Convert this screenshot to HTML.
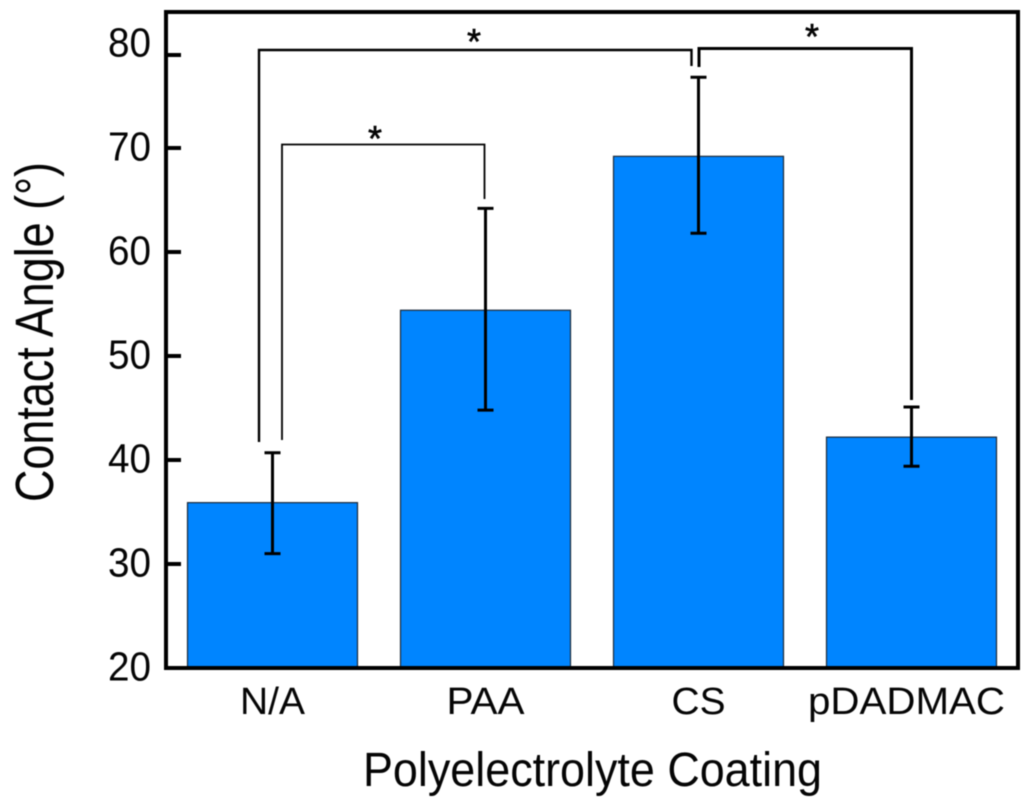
<!DOCTYPE html>
<html>
<head>
<meta charset="utf-8">
<style>
html,body{margin:0;padding:0;background:#fff;}
svg{display:block;filter:blur(0.45px);}
text{font-family:"Liberation Sans",sans-serif;fill:#050505;}
</style>
</head>
<body>
<svg id="chart" width="1024" height="807" viewBox="0 0 1024 807" xmlns="http://www.w3.org/2000/svg"></svg>
<script>
const categories = ['N/A', 'PAA', 'CS', 'pDADMAC'];
const barValues = [35.9, 54.4, 69.2, 42.2];
const errorHigh = [40.7, 64.2, 76.8, 45.1];
const errorLow = [31.0, 44.8, 61.8, 39.4];
const yTicks = [20, 30, 40, 50, 60, 70, 80];
const xTitle = 'Polyelectrolyte Coating';
const yTitle = 'Contact Angle (°)';

const NS = 'http://www.w3.org/2000/svg';
const svg = document.getElementById('chart');
const plot = {left: 166, right: 1018, top: 12, bottom: 668};
function yScale(v) { return 668 - (v - 20) * 10.4; }
function xCenter(i) { return 272.5 + i * 213; }
const barHalf = 85;

function make(tag, attrs, text) {
  const el = document.createElementNS(NS, tag);
  for (const k in attrs) el.setAttribute(k, attrs[k]);
  if (text !== undefined) el.textContent = text;
  svg.appendChild(el);
  return el;
}

/* bars */
categories.forEach(function (c, i) {
  const top = yScale(barValues[i]);
  const b = make('rect', {x: xCenter(i) - barHalf, y: top, width: barHalf * 2, height: plot.bottom - top, fill: '#0085ff', stroke: '#1c2a3a', 'stroke-width': 1.2});
  
  
});

/* frame */
const frame = make('rect', {x: plot.left, y: plot.top, width: plot.right - plot.left, height: plot.bottom - plot.top, fill: 'none', stroke: '#000', 'stroke-width': 4});



/* y ticks and labels */
yTicks.forEach(function (t) {
  const y = yScale(t);
  /* the top tick mark sits below its label position in the source figure */
  const markY = t === 80 ? y + 11 : y;
  if (t > 20) {
    const m = make('line', {x1: plot.left, x2: 181, y1: markY, y2: markY, stroke: '#000', 'stroke-width': 4});
    
    
  }
  const l = make('text', {x: 151, y: y + 12.5, 'text-anchor': 'end', 'font-size': 41, textLength: 43, lengthAdjust: 'spacingAndGlyphs'}, String(t));
  
  
});

/* x labels */
const labelWidths = [65, 78, 54, 197];
categories.forEach(function (c, i) {
  const l = make('text', {x: xCenter(i) + (i === 3 ? -5 : 0), y: 714, 'text-anchor': 'middle', 'font-size': 38, textLength: labelWidths[i], lengthAdjust: 'spacingAndGlyphs'}, c);
  
  
});

/* error bars */
categories.forEach(function (c, i) {
  const x = xCenter(i);
  const hi = yScale(errorHigh[i]);
  const lo = yScale(errorLow[i]);
  const name = 'error-bar-' + c.toLowerCase().replace('/', '');
  const g = make('path', {d: 'M' + x + ' ' + hi + 'V' + lo + 'M' + (x - 8) + ' ' + hi + 'H' + (x + 8) + 'M' + (x - 8) + ' ' + lo + 'H' + (x + 8), fill: 'none', stroke: '#000', 'stroke-width': 3});
  
  
});

/* significance brackets */
const b1 = make('path', {d: 'M259 442V50H691.5V66', fill: 'none', stroke: '#000', 'stroke-width': 2.4});


const b2 = make('path', {d: 'M282 440V144.5H484.5V199', fill: 'none', stroke: '#000', 'stroke-width': 1.8});


const b3 = make('path', {d: 'M699 67V48.5H911.5V400', fill: 'none', stroke: '#000', 'stroke-width': 3});



const s1 = make('text', {x: 474, y: 54, 'text-anchor': 'middle', 'font-size': 36, stroke: '#000', 'stroke-width': 0.6}, '*');


const s2 = make('text', {x: 375, y: 151, 'text-anchor': 'middle', 'font-size': 36, stroke: '#000', 'stroke-width': 0.6}, '*');


const s3 = make('text', {x: 812, y: 49, 'text-anchor': 'middle', 'font-size': 36, stroke: '#000', 'stroke-width': 0.6}, '*');



/* axis titles */
const xt = make('text', {x: 592.5, y: 786, 'text-anchor': 'middle', 'font-size': 48, textLength: 459, lengthAdjust: 'spacingAndGlyphs'}, xTitle);


const yt = make('text', {x: 0, y: 0, transform: 'translate(53 332) rotate(-90)', 'text-anchor': 'middle', 'font-size': 54, textLength: 340, lengthAdjust: 'spacingAndGlyphs'}, yTitle);


</script>
</body>
</html>
